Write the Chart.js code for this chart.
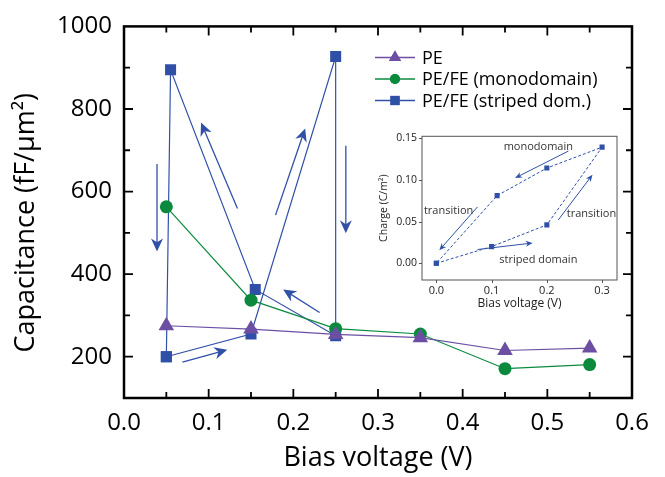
<!DOCTYPE html>
<html>
<head>
<meta charset="utf-8">
<script src="https://cdn.jsdelivr.net/npm/chart.js@4.4.1/dist/chart.umd.min.js"></script>
<style>
html, body { margin: 0; padding: 0; background: #fff; }
#wrap { position: relative; width: 665px; height: 477px; }
#main { position: absolute; left: 0; top: 0; }
#inset { position: absolute; left: 370px; top: 125px; }
</style>
</head>
<body>
<div id="wrap">
  <canvas id="main" width="665" height="477"></canvas>
  <canvas id="inset" width="255" height="190"></canvas>
</div>
<script>
// main plot data
const biasPE = [0.05, 0.15, 0.25, 0.35, 0.45, 0.55]
const capPE = [275, 267, 254, 246, 215, 221]
const biasMono = [0.05, 0.15, 0.25, 0.35, 0.45, 0.55]
const capMono = [563, 337, 268, 255, 171, 181]
const biasStriped = [0.05, 0.15, 0.25, 0.25, 0.155, 0.055, 0.05]
const capStriped = [200, 255, 927, 251, 363, 895, 200]
const xTicks = [0, 0.1, 0.2, 0.3, 0.4, 0.5, 0.6]
const yTicks = [200, 400, 600, 800, 1000]
// arrows in data units: [x1, y1, x2 (tip), y2 (tip)]
const mainArrows = [
    [0.039, 667, 0.039, 455],
    [0.134, 559, 0.091, 767],
    [0.179, 543, 0.214, 753],
    [0.262, 711, 0.262, 499],
    [0.231, 307, 0.188, 363],
    [0.069, 187, 0.122, 217]
]

// inset data
const insetBias = [0, 0.1, 0.2, 0.3, 0.2, 0.11, 0]
const insetCharge = [0, 0.02, 0.046, 0.139, 0.114, 0.081, 0]
const insetXTicks = [0, 0.1, 0.2, 0.3]
const insetYTicks = [0, 0.05, 0.1, 0.15]
const insetArrows = [
    [0.239, 0.1343, 0.1425, 0.1021],
    [0.0745, 0.0675, 0.0054, 0.0157],
    [0.0745, 0.0165, 0.1743, 0.0243],
    [0.2206, 0.0518, 0.2826, 0.106]
]
const insetNotes = ['monodomain', 'transition', 'transition', 'striped domain']
const insetNoteX = [0.1846, 0.0222, 0.2808, 0.1846]
const insetNoteY = [0.1394, 0.0628, 0.0589, 0.0047]

const FONT = "'Open Sans', sans-serif"
const PURPLE = '#6c4fa3'
const GREEN = '#0b8a3e'
const BLUE = '#3050a8'

const pts = (xs, ys) => xs.map((v, i) => ({ x: v, y: ys[i] }))

function drawArrow(ctx, x1, y1, x2, y2, len, wid) {
    const a = Math.atan2(y2 - y1, x2 - x1)
    const c = Math.cos(a), s = Math.sin(a)
    ctx.beginPath()
    ctx.moveTo(x1, y1)
    ctx.lineTo(x2 - c * len * 0.6, y2 - s * len * 0.6)
    ctx.stroke()
    ctx.beginPath()
    ctx.moveTo(x2, y2)
    ctx.lineTo(x2 - c * len - s * wid / 2, y2 - s * len + c * wid / 2)
    ctx.lineTo(x2 - c * len * 0.7, y2 - s * len * 0.7)
    ctx.lineTo(x2 - c * len + s * wid / 2, y2 - s * len - c * wid / 2)
    ctx.closePath()
    ctx.fill()
}

// frame + inward ticks for the main plot, arrows and legend
const mainDecor = {
    id: 'mainDecor',
    afterDraw(chart) {
        const { ctx, chartArea: a, scales: { x, y } } = chart
        ctx.save()
        ctx.strokeStyle = '#000'
        ctx.lineWidth = 1.8
        for (let v = 0.05; v < 0.6; v += 0.05) {
            const px = x.getPixelForValue(v)
            const major = Math.abs(v * 10 - Math.round(v * 10)) < 1e-6
            const l = major ? 9 : 6
            ctx.beginPath()
            ctx.moveTo(px, a.bottom); ctx.lineTo(px, a.bottom - l)
            ctx.moveTo(px, a.top); ctx.lineTo(px, a.top + l)
            ctx.stroke()
        }
        for (let v = 200; v < 1000; v += 100) {
            const py = y.getPixelForValue(v)
            const l = v % 200 === 0 ? 9 : 6
            ctx.beginPath()
            ctx.moveTo(a.left, py); ctx.lineTo(a.left + l, py)
            ctx.moveTo(a.right, py); ctx.lineTo(a.right - l, py)
            ctx.stroke()
        }
        ctx.lineWidth = 2.5
        ctx.strokeRect(a.left, a.top, a.right - a.left, a.bottom - a.top)

        ctx.strokeStyle = BLUE
        ctx.fillStyle = BLUE
        ctx.lineWidth = 1.3
        mainArrows.forEach(r => drawArrow(ctx,
            x.getPixelForValue(r[0]), y.getPixelForValue(r[1]),
            x.getPixelForValue(r[2]), y.getPixelForValue(r[3]), 13, 12))

        // legend
        const rows = chart.data.datasets
        ctx.font = '18px ' + FONT
        ctx.textBaseline = 'middle'
        rows.forEach((d, i) => {
            const ly = 57.5 + i * 21.5
            ctx.strokeStyle = d.borderColor
            ctx.fillStyle = d.borderColor
            ctx.lineWidth = 1.3
            ctx.beginPath(); ctx.moveTo(375, ly); ctx.lineTo(415, ly); ctx.stroke()
            Chart.helpers.drawPoint(ctx, { pointStyle: d.pointStyle, radius: d.legendRadius, borderWidth: 0 }, 395, ly)
            ctx.fill()
            ctx.fillStyle = '#000'
            ctx.fillText(d.label, 422, ly + 1)
        })
        ctx.restore()
    }
}

new Chart(document.getElementById('main'), {
    type: 'scatter',
    data: {
        datasets: [{
            label: 'PE',
            data: pts(biasPE, capPE),
            showLine: true,
            borderColor: PURPLE,
            backgroundColor: PURPLE,
            borderWidth: 1.2,
            pointStyle: 'triangle',
            pointRadius: 9,
            pointBorderWidth: 0,
            legendRadius: 7
        }, {
            label: 'PE/FE (monodomain)',
            data: pts(biasMono, capMono),
            showLine: true,
            borderColor: GREEN,
            backgroundColor: GREEN,
            borderWidth: 1.2,
            pointStyle: 'circle',
            pointRadius: 6.5,
            pointBorderWidth: 0,
            legendRadius: 5
        }, {
            label: 'PE/FE (striped dom.)',
            data: pts(biasStriped, capStriped),
            showLine: true,
            borderColor: BLUE,
            backgroundColor: BLUE,
            borderWidth: 1.2,
            pointStyle: 'rect',
            pointRadius: 7.8,
            pointBorderWidth: 0,
            legendRadius: 6.5
        }]
    },
    options: {
        responsive: false,
        animation: false,
        layout: { padding: { top: 23, right: 33, left: 0, bottom: 0 } },
        plugins: { legend: { display: false }, tooltip: { enabled: false } },
        scales: {
            x: {
                type: 'linear', min: 0, max: 0.6,
                afterBuildTicks: s => { s.ticks = xTicks.map(v => ({ value: v })) },
                afterFit: s => { s.height = 79 },
                grid: { display: false, drawTicks: false },
                border: { display: false },
                ticks: { font: { family: FONT, size: 24 }, color: '#000', padding: 11, maxRotation: 0,
                    callback: v => v.toFixed(1) },
                title: { display: true, text: 'Bias voltage (V)', color: '#000',
                    font: { family: FONT, size: 27 }, padding: { top: 0, bottom: 2 } }
            },
            y: {
                type: 'linear', min: 100, max: 1000,
                afterBuildTicks: s => { s.ticks = yTicks.map(v => ({ value: v })) },
                afterFit: s => { s.width = 124 },
                grid: { display: false, drawTicks: false },
                border: { display: false },
                ticks: { font: { family: FONT, size: 24 }, color: '#000', padding: 12,
                    callback: v => String(v) },
                // trailing spaces nudge the rotated title down a little
                title: { display: true, text: 'Capacitance (fF/μm²)   ', color: '#000',
                    font: { family: FONT, size: 27 }, padding: { top: 10, bottom: 0 } }
            }
        }
    },
    plugins: [mainDecor]
})

// inset decorations
const insetDecor = {
    id: 'insetDecor',
    afterDraw(chart) {
        const { ctx, chartArea: a, scales: { x, y } } = chart
        ctx.save()
        ctx.strokeStyle = '#555'
        ctx.lineWidth = 1
        ctx.strokeRect(a.left, a.top, a.right - a.left, a.bottom - a.top)
        insetXTicks.forEach(v => {
            const px = Math.round(x.getPixelForValue(v)) + 0.5
            ctx.beginPath(); ctx.moveTo(px, a.bottom); ctx.lineTo(px, a.bottom + 3); ctx.stroke()
        })
        insetYTicks.forEach(v => {
            const py = Math.round(y.getPixelForValue(v)) + 0.5
            ctx.beginPath(); ctx.moveTo(a.left, py); ctx.lineTo(a.left - 3, py); ctx.stroke()
        })
        ctx.strokeStyle = BLUE
        ctx.fillStyle = BLUE
        ctx.lineWidth = 1
        insetArrows.forEach(r => drawArrow(ctx,
            x.getPixelForValue(r[0]), y.getPixelForValue(r[1]),
            x.getPixelForValue(r[2]), y.getPixelForValue(r[3]), 7, 6))
        ctx.fillStyle = '#333'
        ctx.font = '11px ' + FONT
        ctx.textAlign = 'center'
        ctx.textBaseline = 'middle'
        insetNotes.forEach((t, i) => ctx.fillText(t,
            x.getPixelForValue(insetNoteX[i]), y.getPixelForValue(insetNoteY[i])))
        ctx.restore()
    }
}

new Chart(document.getElementById('inset'), {
    type: 'scatter',
    data: {
        datasets: [{
            data: pts(insetBias, insetCharge),
            showLine: true,
            borderColor: BLUE,
            backgroundColor: BLUE,
            borderWidth: 1,
            borderDash: [3, 2],
            pointStyle: 'rect',
            pointRadius: 3.6,
            pointBorderWidth: 0
        }]
    },
    options: {
        responsive: false,
        animation: false,
        layout: { padding: { top: 10, right: 8, left: 0, bottom: 0 } },
        plugins: { legend: { display: false }, tooltip: { enabled: false } },
        scales: {
            x: {
                type: 'linear', min: -0.026, max: 0.327,
                afterBuildTicks: s => { s.ticks = insetXTicks.map(v => ({ value: v })) },
                afterFit: s => { s.height = 35 },
                grid: { display: false, drawTicks: false },
                border: { display: false },
                ticks: { font: { family: FONT, size: 11 }, color: '#222', padding: 4, maxRotation: 0,
                    callback: v => v.toFixed(1) },
                title: { display: true, text: 'Bias voltage (V)', color: '#222',
                    font: { family: FONT, size: 12 }, padding: { top: 0, bottom: 4 } }
            },
            y: {
                type: 'linear', min: -0.02, max: 0.152,
                afterBuildTicks: s => { s.ticks = insetYTicks.map(v => ({ value: v })) },
                afterFit: s => { s.width = 52 },
                grid: { display: false, drawTicks: false },
                border: { display: false },
                ticks: { font: { family: FONT, size: 10.5 }, color: '#222', padding: 5,
                    callback: v => v.toFixed(2) },
                title: { display: true, text: 'Charge (C/m²)', color: '#222',
                    font: { family: FONT, size: 10.5 }, padding: { top: 8, bottom: 0 } }
            }
        }
    },
    plugins: [insetDecor]
})
</script>
</body>
</html>
